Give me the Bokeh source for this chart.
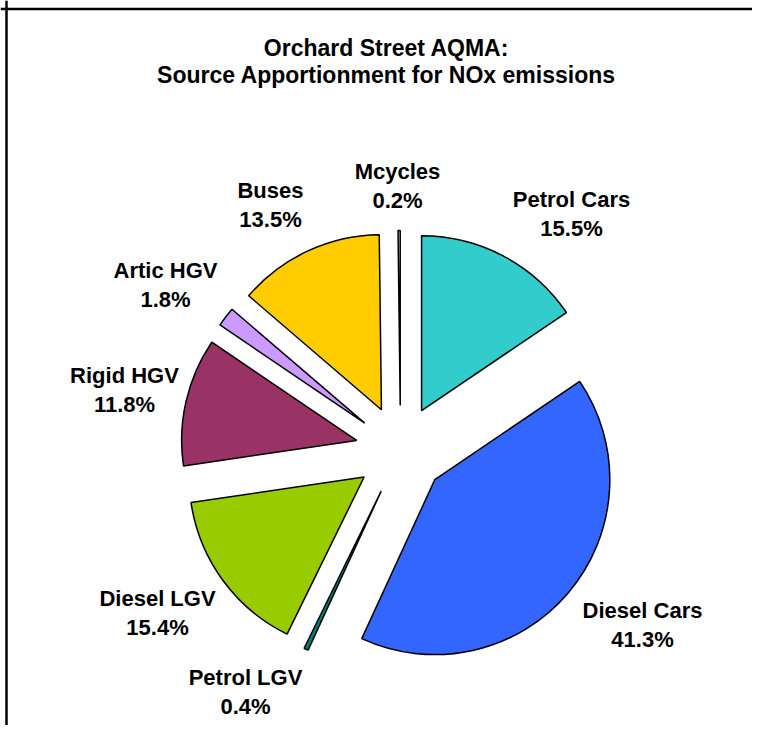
import numpy as np
from bokeh.plotting import figure
from bokeh.models import Range1d, Span, ColumnDataSource
from bokeh.core.properties import value
from bokeh.embed import file_html
from bokeh.resources import INLINE

# ---- data ----
title_lines = ["Orchard Street AQMA:", "Source Apportionment for NOx emissions"]
categories = ["Petrol Cars", "Diesel Cars", "Petrol LGV", "Diesel LGV",
              "Rigid HGV", "Artic HGV", "Buses", "Mcycles"]
shares = [15.5, 41.3, 0.4, 15.4, 11.8, 1.8, 13.5, 0.2]

# ---- styling / layout ----
colors = ["#33CCCC", "#3366FF", "#008080", "#99CC00",
          "#993366", "#CC99FF", "#FFCC00", "#CCCCFF"]
# label block centre offsets from pie centre (screen px, y down)
label_offsets = [(171, -237), (242, 174), (-155, 241), (-243, 162),
                 (-276, -61), (-235, -166), (-130, -246), (-3, -265)]
W, H = 752, 725
CX, CY = 400, 275      # pie centre
R = 175                # radius
EXPLODE = 45           # explosion distance
FONT = "Liberation Sans"

fr = np.array(shares) / np.sum(shares)
end = np.cumsum(fr)
start = end - fr
mid = (start + end) / 2
src = ColumnDataSource(dict(
    x=CX + EXPLODE * np.sin(2 * np.pi * mid),
    y=CY + EXPLODE * np.cos(2 * np.pi * mid),
    sa=np.pi / 2 - 2 * np.pi * end,
    ea=np.pi / 2 - 2 * np.pi * start,
    color=colors,
))

p = figure(width=W, height=H, x_range=Range1d(0, W), y_range=Range1d(0, H),
           output_backend="svg", toolbar_location=None,
           x_axis_type=None, y_axis_type=None, min_border=0,
           outline_line_color=None)
p.grid.grid_line_color = None
p.background_fill_color = "white"
p.border_fill_color = "white"

p.wedge(x="x", y="y", radius=R, start_angle="sa", end_angle="ea",
        fill_color="color", line_color="black", line_width=1.5, source=src)

lx = [CX + o[0] for o in label_offsets]
ly = [CY - o[1] for o in label_offsets]
pct = [f"{v:.1f}%" for v in shares]
p.text(x=lx, y=ly, text=categories, y_offset=-14, text_align="center",
       text_baseline="middle", text_font=value(FONT), text_font_style="bold",
       text_font_size="22px", text_color="black")
p.text(x=lx, y=ly, text=pct, y_offset=15, text_align="center",
       text_baseline="middle", text_font=value(FONT), text_font_style="bold",
       text_font_size="22px", text_color="black")

p.text(x=[386, 386], y=[H - 47, H - 74.5], text=title_lines, text_align="center",
       text_baseline="middle", text_font=value(FONT), text_font_style="bold",
       text_font_size="23px", text_color="black")

p.add_layout(Span(location=H - 8.5, dimension="width", line_color="black", line_width=2.5))
p.add_layout(Span(location=6, dimension="height", line_color="black", line_width=2.5))

open("out.html", "w").write(file_html(p, INLINE))
